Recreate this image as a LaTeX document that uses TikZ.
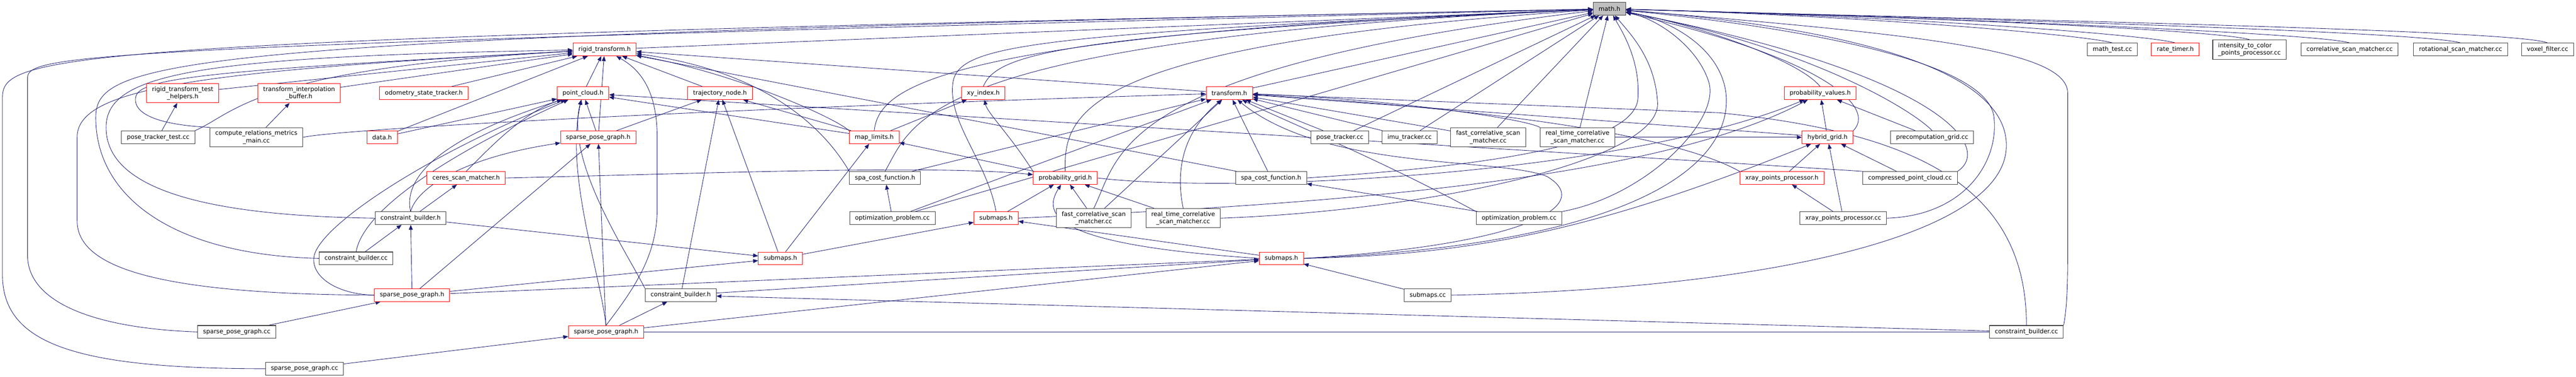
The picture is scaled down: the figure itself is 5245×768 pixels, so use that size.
\documentclass[tikz,border=0pt]{standalone}
\usepackage{fontspec}
\setmainfont{DejaVu Sans}
\usetikzlibrary{arrows.meta}
\definecolor{edgeblue}{RGB}{25,25,112}
\pgfdeclarelayer{background}
\pgfsetlayers{background,main}

\begin{document}
\begin{tikzpicture}[x=1pt, y=-1pt, font=\fontsize{12.4}{15}\selectfont,
  box/.style={draw=black!75, fill=white, line width=1.1pt, inner xsep=11pt, inner ysep=6pt, minimum height=26pt, align=center},
  hbox/.style={box, draw=red, line width=1pt},
  gbox/.style={box, fill=black!25},
  edge/.style={draw=edgeblue, line width=0.9pt, -{Triangle[length=10pt,width=8pt]}},
  wire/.style={draw=edgeblue, line width=0.9pt}]

\useasboundingbox (0,0) rectangle (5245,768);

\node[gbox] (math) at (3277,18) {math.h};

\node[hbox] (rt) at (1231,101) {rigid\_transform.h};
\node[box] (mtest) at (4301,101) {math\_test.cc};
\node[hbox] (rtimer) at (4429,101) {rate\_timer.h};
\node[box, align=left] (itc) at (4580,101) {intensity\_to\_color\\\_points\_processor.cc};
\node[box] (csm) at (4784,101) {correlative\_scan\_matcher.cc};
\node[box] (rsm) at (5010,101) {rotational\_scan\_matcher.cc};
\node[box] (voxel) at (5187,101) {voxel\_filter.cc};

\node[hbox] (rtth) at (372,190) {rigid\_transform\_test\\\_helpers.h};
\node[hbox] (tib) at (609,190) {transform\_interpolation\\\_buffer.h};
\node[hbox] (ost) at (863,190) {odometry\_state\_tracker.h};
\node[hbox] (pc) at (1187,190) {point\_cloud.h};
\node[hbox] (tn) at (1466,190) {trajectory\_node.h};
\node[hbox] (xy) at (2002,190) {xy\_index.h};
\node[hbox] (tf) at (2503,190) {transform.h};
\node[hbox] (pv) at (3706,190) {probability\_values.h};

\node[box] (ptt) at (322,280) {pose\_tracker\_test.cc};
\node[box] (crm) at (522,280) {compute\_relations\_metrics\\\_main.cc};
\node[hbox] (data) at (778,280) {data.h};
\node[hbox] (spgA) at (1218,280) {sparse\_pose\_graph.h};
\node[hbox] (ml) at (1780,280) {map\_limits.h};
\node[box] (ptc) at (2728,280) {pose\_tracker.cc};
\node[box] (imu) at (2870,280) {imu\_tracker.cc};
\node[box] (fcsmA) at (3030,280) {fast\_correlative\_scan\\\_matcher.cc};
\node[box] (rtcsmA) at (3212,280) {real\_time\_correlative\\\_scan\_matcher.cc};
\node[hbox] (hg) at (3721,280) {hybrid\_grid.h};
\node[box] (pgcc) at (3934,280) {precomputation\_grid.cc};

\node[hbox] (csmh) at (949,363) {ceres\_scan\_matcher.h};
\node[box] (spacfA) at (1802,363) {spa\_cost\_function.h};
\node[hbox] (pg) at (2169,363) {probability\_grid.h};
\node[box] (spacfB) at (2588,363) {spa\_cost\_function.h};
\node[hbox] (xrayh) at (3628,363) {xray\_points\_processor.h};
\node[box] (cpc) at (3889,363) {compressed\_point\_cloud.cc};

\node[box] (cbhA) at (836,445) {constraint\_builder.h};
\node[box] (opA) at (1817,445) {optimization\_problem.cc};
\node[hbox] (smA) at (2028,445) {submaps.h};
\node[box] (fcsmB) at (2227,445) {fast\_correlative\_scan\\\_matcher.cc};
\node[box] (rtcsmB) at (2409,445) {real\_time\_correlative\\\_scan\_matcher.cc};
\node[box] (opB) at (3093,445) {optimization\_problem.cc};
\node[box] (xraycc) at (3753,445) {xray\_points\_processor.cc};

\node[box] (cbccA) at (725,527) {constraint\_builder.cc};
\node[hbox] (smB) at (1589,527) {submaps.h};
\node[hbox] (smC) at (2609,527) {submaps.h};

\node[hbox] (spgB) at (839,602) {sparse\_pose\_graph.h};
\node[box] (cbhB) at (1386,602) {constraint\_builder.h};
\node[box] (smcc) at (2907,602) {submaps.cc};

\node[box] (spgccA) at (482,677) {sparse\_pose\_graph.cc};
\node[hbox] (spgC) at (1234,677) {sparse\_pose\_graph.h};
\node[box] (cbccB) at (4126,677) {constraint\_builder.cc};

\node[box] (spgccB) at (620,752) {sparse\_pose\_graph.cc};

\begin{pgfonlayer}{background}
\draw[edge] (rt) -- (math);
\draw[edge] (mtest.north) .. controls (4250,72) and (3800,32) .. (math);
\draw[edge] (rtimer.north) .. controls (4380,72) and (3900,34) .. (math);
\draw[edge] (itc.north) .. controls (4520,62) and (3950,36) .. (math);
\draw[edge] (csm.north) .. controls (4720,68) and (4000,38) .. (math);
\draw[edge] (rsm.north) .. controls (4930,64) and (4000,38) .. (math);
\draw[edge] (voxel.north) .. controls (5120,60) and (4050,40) .. (math);

\draw[edge] (rtth) -- (rt);
\draw[edge] (tib) -- (rt);
\draw[edge] (ost) -- (rt);
\draw[edge] (pc) -- (rt);
\draw[edge] (tn) -- (rt);
\draw[edge] (xy.north) .. controls (2030,110) and (2150,70) .. (math);
\draw[edge] (tf) -- (math);
\draw[edge] (tf) -- (rt);
\draw[edge] (pv.north) .. controls (3660,120) and (3450,50) .. (math);

\draw[edge] (ptt) -- (rtth);
\draw[edge] (ptt.north east) .. controls (480,230) and (520,140) .. (rt);
\draw[edge] (crm) -- (tib);
\draw[edge] (crm.north west) .. controls (330,255) and (272,235) .. (276,200) .. controls (280,160) and (400,145) .. (rt);
\draw[edge] (crm.east) .. controls (700,262) and (1500,220) .. (tf);
\draw[edge] (data) -- (pc);
\draw[edge] (data) -- (rt);
\draw[edge] (spgA) -- (rt);
\draw[edge] (spgA) -- (pc);
\draw[edge] (spgA) -- (tn);
\draw[edge] (ml) -- (tn);
\draw[edge] (ml) -- (xy);
\draw[edge] (ml) -- (pc);
\draw[edge] (ml.north west) .. controls (1700,240) and (1500,150) .. (rt);
\draw[edge] (ml.north) .. controls (1790,180) and (1900,70) .. (math);
\draw[edge] (ptc) -- (tf);
\draw[edge] (ptc) -- (math);
\draw[edge] (imu) -- (tf);
\draw[edge] (imu) -- (math);
\draw[edge] (fcsmA) -- (tf);
\draw[edge] (fcsmA) -- (math);
\draw[edge] (rtcsmA.north west) .. controls (3100,240) and (2800,200) .. (tf);
\draw[edge] (rtcsmA) -- (math);
\draw[edge] (rtcsmA) -- (hg);
\draw[edge] (hg) -- (pv);
\draw[edge] (hg.north east) .. controls (3820,220) and (3720,120) .. (math);
\draw[edge] (hg) -- (tf);
\draw[edge] (pgcc) -- (pv);
\draw[edge] (pgcc.north) .. controls (3900,230) and (3700,100) .. (math);

\draw[edge] (csmh.north) .. controls (980,320) and (1060,230) .. (pc);
\draw[edge] (csmh.east) .. controls (1400,355) and (1900,335) .. (pg);
\draw[edge] (spacfA.north west) .. controls (1700,300) and (1600,150) .. (rt);
\draw[edge] (spacfA.north) .. controls (1860,250) and (1870,80) .. (math);
\draw[edge] (spacfA) -- (tf);
\draw[edge] (pg.north west) .. controls (2060,280) and (2010,230) .. (xy);
\draw[edge] (pg.north) .. controls (2165,230) and (2200,90) .. (math);
\draw[edge] (pg) -- (ml);
\draw[edge] (pg.east) .. controls (2500,395) and (3300,360) .. (pv);
\draw[edge] (spacfB) -- (rt);
\draw[edge] (spacfB) -- (tf);
\draw[edge] (spacfB.east) .. controls (3000,340) and (3330,300) .. (3335,200) .. controls (3340,120) and (3300,60) .. (math);
\draw[edge] (xrayh) -- (hg);
\draw[edge] (xrayh.north west) .. controls (3400,270) and (3000,220) .. (tf);
\draw[edge] (cpc) -- (hg);
\draw[edge] (cpc.north east) .. controls (4060,300) and (3950,150) .. (math);
\draw[edge] (cpc.north west) .. controls (3500,330) and (2000,240) .. (pc);

\draw[edge] (cbhA) -- (csmh);
\draw[edge] (cbhA.north) .. controls (820,360) and (900,280) .. (pc);
\draw[edge] (cbhA.north) .. controls (850,380) and (950,320) .. (spgA);
\draw[edge] (cbhA.west) .. controls (400,440) and (216,380) .. (216,260) .. controls (216,150) and (400,115) .. (rt);
\draw[edge] (cbhA) -- (smB);
\draw[edge] (opA) -- (spacfA);
\draw[edge] (opA) -- (tf);
\draw[edge] (opA) -- (math);
\draw[edge] (smA) -- (pg);
\draw[edge] (smA.north) .. controls (2010,330) and (1930,250) .. (1940,170) .. controls (1950,90) and (2100,70) .. (math);
\draw[edge] (smA.east) .. controls (2600,420) and (3350,380) .. (pv);
\draw[edge] (fcsmB) -- (pg);
\draw[edge] (fcsmB.north) .. controls (2280,320) and (2260,140) .. (math);
\draw[edge] (fcsmB) -- (tf);
\draw[edge] (rtcsmB) -- (pg);
\draw[edge] (rtcsmB.north) .. controls (2390,330) and (2420,260) .. (tf);
\draw[edge] (rtcsmB.east) .. controls (2900,430) and (3380,330) .. (3375,210) .. controls (3370,120) and (3320,70) .. (math);
\draw[edge] (opB) -- (spacfB);
\draw[edge] (opB.north west) .. controls (2800,320) and (2600,240) .. (tf);
\draw[edge] (opB.north east) .. controls (3350,400) and (3500,250) .. (3480,170) .. controls (3460,100) and (3380,40) .. (math);
\draw[edge] (xraycc) -- (xrayh);
\draw[edge] (xraycc) -- (hg);
\draw[edge] (xraycc.east) .. controls (4000,440) and (4070,330) .. (4060,240) .. controls (4050,130) and (3700,60) .. (math);

\draw[edge] (cbccA) -- (cbhA);
\draw[edge] (cbccA.north) .. controls (740,430) and (900,320) .. (pc);
\draw[edge] (cbccA.west) .. controls (350,520) and (195,400) .. (195,240) .. controls (195,120) and (350,75) .. (math);
\draw[edge] (smB) -- (ml);
\draw[edge] (smB) -- (tn);
\draw[edge] (smB) -- (smA);
\draw[edge] (smC) -- (smA);
\draw[edge] (smC.east) .. controls (3000,520) and (3250,470) .. (hg);
\draw[edge] (smC.east) .. controls (3100,500) and (3250,420) .. (3150,360) .. controls (3050,320) and (2700,350) .. (tf);
\draw[edge] (smC.east) .. controls (3300,500) and (3520,350) .. (3515,200) .. controls (3510,100) and (3400,40) .. (math);
\draw[edge] (smC.west) .. controls (2150,500) and (2120,440) .. (pg);

\draw[edge] (spgB) -- (cbhA);
\draw[edge] (spgB) -- (spgA);
\draw[edge] (spgB) -- (smB);
\draw[edge] (spgB) -- (smC);
\draw[edge] (spgB.west) .. controls (680,600) and (630,560) .. (640,520) .. controls (660,450) and (900,300) .. (pc);
\draw[edge] (spgB.west) .. controls (300,600) and (157,540) .. (157,450) -- (157,280) .. controls (157,180) and (400,145) .. (rt);
\draw[edge] (cbhB) -- (tn);
\draw[edge] (cbhB.north west) .. controls (1280,520) and (1150,330) .. (pc);
\draw[edge] (cbhB) -- (smC);
\draw[edge] (smcc) -- (smC);
\draw[edge] (smcc.east) .. controls (3600,590) and (4080,480) .. (4085,300) .. controls (4090,150) and (3800,60) .. (math);

\draw[edge] (spgccA) -- (spgB);
\draw[edge] (spgccA.west) .. controls (200,670) and (56,620) .. (56,520) -- (56,160) .. controls (56,110) and (150,95) .. (math);
\draw[edge] (spgC) -- (cbhB);
\draw[edge] (spgC.north) .. controls (1220,550) and (1150,350) .. (pc);
\draw[edge] (spgC) -- (spgA);
\draw[edge] (spgC.north) .. controls (1290,590) and (1340,520) .. (1338,420) -- (1338,280) .. controls (1338,180) and (1300,140) .. (rt);
\draw[edge] (spgC) -- (smC);
\draw[wire] (spgC) -- (cbccB);
\draw[edge] (cbccB) -- (cbhB);
\draw[edge] (cbccB.north) .. controls (4126,380) and (3900,270) .. (3500,230) -- (tf);
\draw[edge] (cbccB.north east) .. controls (4210,620) and (4210,560) .. (4210,500) -- (4210,190) .. controls (4210,100) and (3900,70) .. (math);

\draw[edge] (spgccB) -- (spgC);
\draw[edge] (spgccB.west) .. controls (150,752) and (5,700) .. (5,560) -- (5,200) .. controls (5,110) and (100,80) .. (math);
\end{pgfonlayer}

\end{tikzpicture}
\end{document}
